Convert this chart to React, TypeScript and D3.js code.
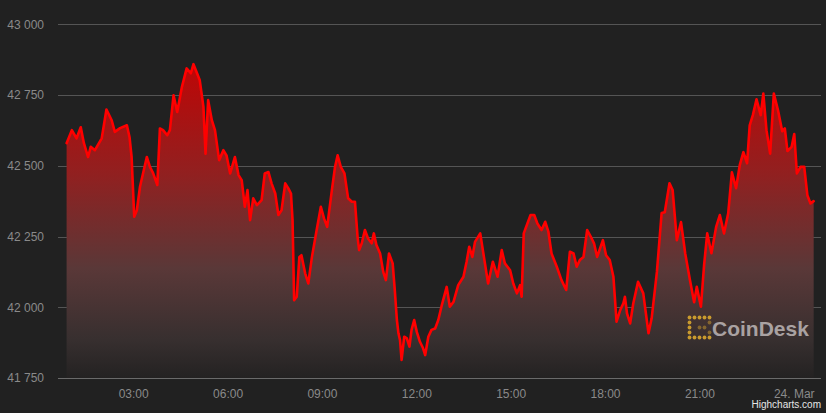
import React from "react";
import * as d3 from "d3";

// minutes after 00:00, 23 Mar 2022 (UTC)
const timesMin = [
  52, 62, 71, 79, 85, 93, 98, 106, 119, 128, 138, 144, 154, 167, 172, 176, 181, 186, 192, 205,
  211, 217, 225, 230, 236, 244, 249, 256, 263, 272, 281, 289, 294, 301, 306, 313, 317, 322, 329, 335,
  343, 351, 357, 364, 373, 380, 386, 392, 397, 402, 408, 415, 424, 430, 437, 443, 450, 456, 462, 469,
  475, 480, 483, 486, 491, 496, 500, 507, 513, 520, 529, 537, 543, 549, 558, 564, 569, 575, 582, 589,
  596, 602, 607, 610, 615, 621, 627, 634, 638, 643, 650, 656, 661, 667, 674, 678, 682, 685, 688, 691,
  696, 701, 706, 710, 715, 720, 726, 732, 736, 742, 748, 755, 761, 767, 777, 783, 790, 799, 809, 815,
  820, 826, 831, 841, 847, 856, 865, 874, 882, 888, 898, 904, 911, 917, 920, 924, 931, 937, 944, 950,
  958, 965, 971, 977, 987, 996, 1005, 1012, 1019, 1025, 1031, 1038, 1045, 1052, 1058, 1064, 1075, 1081, 1088, 1095,
  1101, 1108, 1114, 1117, 1121, 1127, 1133, 1142, 1152, 1157, 1162, 1168, 1178, 1187, 1193, 1202, 1208, 1216, 1224, 1232,
  1241, 1249, 1254, 1262, 1268, 1274, 1282, 1291, 1298, 1306, 1314, 1321, 1329, 1336, 1343, 1350, 1355, 1361, 1368, 1376,
  1381, 1387, 1394, 1401, 1409, 1417, 1422, 1427, 1435, 1440, 1445, 1452, 1459, 1465, 1471, 1477,
];

const prices = [
  42580, 42626, 42597, 42636, 42580, 42531, 42567, 42555, 42597, 42699, 42661, 42620, 42633, 42643, 42602, 42531, 42320, 42343, 42426, 42531,
  42496, 42474, 42432, 42632, 42626, 42608, 42626, 42749, 42690, 42779, 42844, 42827, 42859, 42826, 42802, 42708, 42543, 42732, 42661, 42626,
  42520, 42555, 42537, 42473, 42531, 42467, 42449, 42355, 42414, 42308, 42385, 42361, 42379, 42473, 42478, 42438, 42402, 42326, 42343, 42438,
  42420, 42402, 42308, 42025, 42037, 42178, 42184, 42120, 42084, 42178, 42273, 42355, 42314, 42284, 42414, 42496, 42537, 42496, 42473, 42385,
  42373, 42373, 42249, 42202, 42226, 42273, 42243, 42226, 42261, 42220, 42190, 42125, 42096, 42190, 42155, 42061, 41955, 41908, 41884, 41814,
  41896, 41890, 41861, 41920, 41955, 41913, 41878, 41855, 41831, 41896, 41920, 41925, 41955, 42002, 42072, 42002, 42019, 42078, 42108, 42161,
  42214, 42178, 42231, 42261, 42190, 42084, 42161, 42108, 42202, 42155, 42131, 42084, 42049, 42078, 42037, 42261, 42296, 42326, 42326, 42296,
  42273, 42302, 42267, 42190, 42143, 42096, 42061, 42196, 42190, 42143, 42167, 42178, 42273, 42249, 42226, 42178, 42237, 42184, 42167, 42108,
  41949, 41990, 42014, 42037, 41978, 41943, 42014, 42090, 42049, 41978, 41908, 41961, 42125, 42333, 42336, 42438, 42414, 42237, 42301, 42190,
  42096, 42018, 42072, 42002, 42149, 42261, 42191, 42284, 42326, 42261, 42332, 42477, 42421, 42502, 42548, 42509, 42643, 42679, 42735, 42679,
  42755, 42626, 42543, 42755, 42696, 42622, 42632, 42552, 42567, 42612, 42473, 42496, 42496, 42396, 42367, 42375,
];

const yTicks = [41750, 42000, 42250, 42500, 42750, 43000];
const xTickMinutes = [180, 360, 540, 720, 900, 1080, 1260, 1440];
const xTickLabels = ["03:00", "06:00", "09:00", "12:00", "15:00", "18:00", "21:00", "24. Mar"];

const W = 826;
const H = 413;
const PLOT_LEFT = 58;
const PLOT_RIGHT = 821;
const PLOT_TOP = 24.3;
const PLOT_BOTTOM = 378;
const BASE = Date.UTC(2022, 2, 23);
const toDate = (m: number) => new Date(BASE + m * 60000);

export default function App() {
  const x = d3
    .scaleTime()
    .domain([toDate(35.6), toDate(1491)])
    .range([PLOT_LEFT, PLOT_RIGHT]);
  const y = d3.scaleLinear().domain([41750, 43000]).range([PLOT_BOTTOM, PLOT_TOP]);

  const data = timesMin.map((m, i) => ({ t: toDate(m), v: prices[i] }));
  const line = d3
    .line<{ t: Date; v: number }>()
    .x((d) => x(d.t))
    .y((d) => y(d.v));
  const area = d3
    .area<{ t: Date; v: number }>()
    .x((d) => x(d.t))
    .y0(PLOT_BOTTOM)
    .y1((d) => y(d.v));

  const fmt = (v: number) => d3.format(",")(v).replace(",", " ");
  const topY = y(d3.max(prices) as number);

  const fontFamily = "'Liberation Sans', Arial, Helvetica, sans-serif";

  // logo dots (gold icon)
  const logoX = 688;
  const logoY = 316;
  const dots: { cx: number; cy: number; o: number }[] = [];
  for (let i = 0; i < 5; i++) dots.push({ cx: logoX + 1.5, cy: logoY + 1.5 + i * 5, o: 1 });
  for (let i = 1; i < 5; i++) dots.push({ cx: logoX + 1.5 + i * 5, cy: logoY + 1.5, o: 1 });
  for (let i = 1; i < 5; i++) dots.push({ cx: logoX + 1.5 + i * 5, cy: logoY + 21.5, o: 1 });
  dots.push({ cx: logoX + 11.5, cy: logoY + 11.5, o: 0.5 });
  dots.push({ cx: logoX + 16.5, cy: logoY + 11.5, o: 0.5 });
  dots.push({ cx: logoX + 21.5, cy: logoY + 6.5, o: 0.5 });
  dots.push({ cx: logoX + 21.5, cy: logoY + 16.5, o: 0.5 });

  return (
    <div style={{ position: "absolute", left: 0, top: 0, width: W, height: H }}>
      <svg width={W} height={H} style={{ display: "block", background: "#212121" }}>
        <defs>
          <linearGradient id="areaGrad" gradientUnits="userSpaceOnUse" x1={0} y1={topY} x2={0} y2={PLOT_BOTTOM}>
            <stop offset="0" stopColor="rgb(190,6,6)" />
            <stop offset="0.35" stopColor="rgb(145,32,32)" />
            <stop offset="0.65" stopColor="rgb(90,56,56)" />
            <stop offset="0.88" stopColor="rgb(55,47,47)" />
            <stop offset="1" stopColor="rgb(36,34,34)" />
          </linearGradient>
        </defs>
        <rect x={0} y={0} width={W} height={H} fill="#212121" />
        {yTicks.map((t) => (
          <g key={t}>
            <line
              x1={PLOT_LEFT}
              x2={PLOT_RIGHT}
              y1={Math.round(y(t)) + 0.5}
              y2={Math.round(y(t)) + 0.5}
              stroke={t === 41750 ? "#6a6a6a" : "#555555"}
              strokeWidth={1}
            />
            <text
              x={44}
              y={y(t) + 4.3}
              textAnchor="end"
              fontFamily={fontFamily}
              fontSize={12}
              fill="#8a8a8a"
            >
              {fmt(t)}
            </text>
          </g>
        ))}
        <path d={area(data) || ""} fill="url(#areaGrad)" />
        <path
          d={line(data) || ""}
          fill="none"
          stroke="#ff0000"
          strokeWidth={2.6}
          strokeLinejoin="round"
          strokeLinecap="round"
        />
        {xTickMinutes.map((m, i) => (
          <text
            key={m}
            x={x(toDate(m))}
            y={397.5}
            textAnchor="middle"
            fontFamily={fontFamily}
            fontSize={12}
            fill="#8a8a8a"
          >
            {xTickLabels[i]}
          </text>
        ))}
        <g>
          {dots.map((d, i) => (
            <circle key={i} cx={d.cx} cy={d.cy} r={1.9} fill="#c99a2e" opacity={d.o} />
          ))}
          <text
            x={712}
            y={336}
            fontFamily={fontFamily}
            fontWeight="bold"
            fontSize={21}
            fill="#bdb6b6"
            opacity={0.85}
          >
            CoinDesk
          </text>
        </g>
        <text
          x={821}
          y={408}
          textAnchor="end"
          fontFamily={fontFamily}
          fontSize={10}
          fill="#e6e6e6"
        >
          Highcharts.com
        </text>
      </svg>
    </div>
  );
}
